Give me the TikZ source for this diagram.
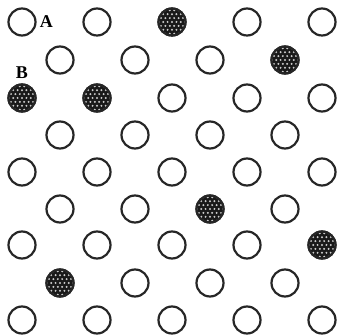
\documentclass[tikz,border=0pt]{standalone}
\usepackage{fontspec}
\setmainfont{Liberation Serif}
\usetikzlibrary{positioning}
\tikzset{
  site/.style={circle,draw=black!85,line width=2.2pt,minimum size=27pt,inner sep=0pt},
  occ/.style={site,fill=black!90,path picture={
    \foreach \i in {-4,...,4}
      \foreach \j in {-4,...,4}
        \fill[white!80!black,shift={(path picture bounding box.center)}] ({\i*4.4+mod(abs(\j),2)*2.2},{\j*3.9}) circle (1.1);}},
  lbl/.style={font=\fontsize{18}{18}\selectfont\bfseries,inner sep=0pt},
}
\begin{document}
\begin{tikzpicture}[x=1pt,y=-1pt]
 \useasboundingbox (0,0) rectangle (343,336);
 % long rows (5 sites)
 \foreach \r/\y in {1/22,3/98,5/172,7/245,9/320}
  \foreach \c in {0,...,4}
   \node[site] (r\r c\c) at (22+75*\c,\y) {};
 % short rows (4 sites)
 \foreach \r/\y in {2/60,4/135,6/209,8/283}
  \foreach \c in {0,...,3}
   \node[site] (r\r c\c) at (60+75*\c,\y) {};
 % occupied sites
 \foreach \n in {r1c2,r2c3,r3c0,r3c1,r6c2,r7c4,r8c0} \node[occ] at (\n) {};
 \node[lbl,right=3pt of r1c0] (A) {A};
 \node[lbl,above=5pt of r3c0] (B) {B};
\end{tikzpicture}
\end{document}
